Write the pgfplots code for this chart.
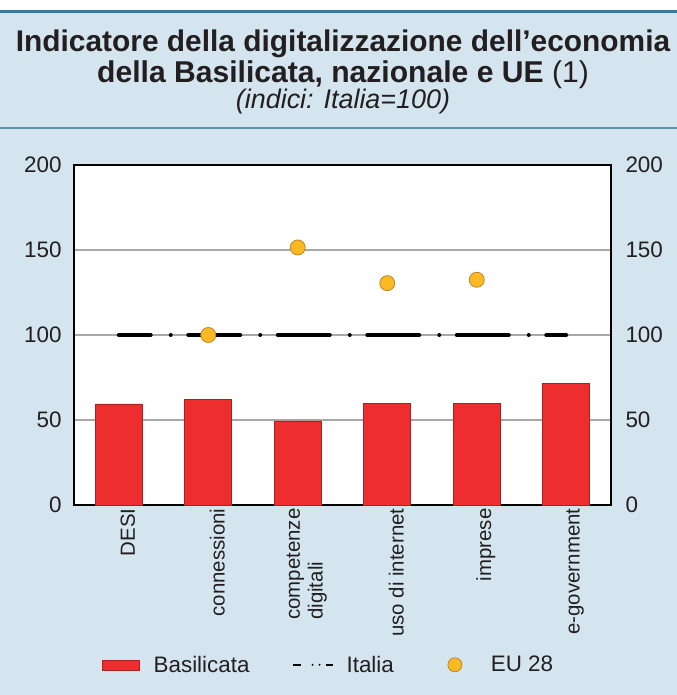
\documentclass[border=0pt]{standalone}
\usepackage{pgfplots}
\pgfplotsset{compat=1.18}
\usepackage{fontspec}
\setmainfont{Liberation Sans}
\definecolor{bgblue}{HTML}{D4E5EF}
\definecolor{lineblue}{HTML}{3A7896}
\definecolor{lineblue2}{HTML}{5B92AD}
\definecolor{barred}{HTML}{EE2E2E}
\definecolor{bardark}{HTML}{A82222}
\definecolor{euyellow}{HTML}{FDB924}
\definecolor{eudark}{HTML}{B8862B}
\definecolor{txt}{HTML}{231F20}
\definecolor{gridgrey}{HTML}{A8A8A8}
\begin{document}
\begin{tikzpicture}
\fill[bgblue] (-74bp,-190bp) rectangle (603bp,492bp);
\fill[white] (-74bp,492bp) rectangle (603bp,505bp);
\useasboundingbox (-74bp,-190bp) rectangle (603bp,505bp);
\draw[lineblue, line width=3bp] (-74bp,493bp) -- (603bp,493bp);
\draw[lineblue2, line width=2.5bp] (-74bp,377bp) -- (603bp,377bp);
\node[anchor=base, text=txt, inner sep=0pt, font=\fontsize{30}{34}\selectfont\bfseries] at (269bp,453bp) {Indicatore della digitalizzazione dell’economia};
\node[anchor=base, text=txt, inner sep=0pt, font=\fontsize{30.2}{34}\selectfont] at (269bp,422bp) {\bfseries della Basilicata, nazionale e UE \mdseries(1)};
\node[anchor=base, text=txt, inner sep=0pt, font=\fontsize{27}{30}\selectfont\itshape] at (269bp,396bp) {(indici: Italia=100)};

\begin{axis}[
  at={(0bp,0bp)}, anchor=south west,
  width=537bp, height=340bp, scale only axis,
  xmin=-0.5, xmax=5.5, ymin=0, ymax=200,
  ytick={0,50,100,150,200},
  xtick={0,1,2,3,4,5},
  xticklabels={DESI, connessioni, {competenze\\digitali}, uso di internet, imprese, e-government},
  major tick length=0,
  ymajorgrids, grid style={color=gridgrey, line width=1.1bp},
  axis line style={black, line width=1.5bp},
  axis background/.style={fill=white},
  tick label style={color=txt},
  /pgf/number format/assume math mode=true,
  yticklabel style={font=\fontsize{22.5}{26}\selectfont, xshift=-9bp},
  xticklabel style={rotate=90, anchor=east, align=left, font=\fontsize{20.5}{23}\selectfont, yshift=-9bp},
  legend columns=3,
  legend style={at={(0.0465,-0.47)}, anchor=west, draw=none, fill=none,
    font=\fontsize{22.5}{26}\selectfont, text=txt,
    /tikz/every odd column/.append style={column sep=12bp},
    /tikz/every even column/.append style={column sep=41bp}},
]
\addplot[ybar, bar width=47bp, fill=barred, draw=bardark, line width=0.5bp,
  legend image code/.code={\fill[barred, draw=bardark, line width=0.5bp, solid] (0bp,-5bp) rectangle (37bp,5bp);}]
  coordinates {(0,59.5) (1,62) (2,49.5) (3,60) (4,60) (5,71.5)};
\addlegendentry{Basilicata}
\addplot[black, line width=4bp, line cap=round, dash pattern=on 52bp off 20bp on 0bp off 17.5bp, dash phase=20bp,
  legend image code/.code={
    \path[draw=none, fill=none] (0bp,0bp) -- (40bp,0bp);
    \fill[black, draw=none] (0bp,-1.2bp) rectangle (8bp,1.2bp);
    \fill[black, draw=none] (20bp,0bp) circle (1.1bp);
    \fill[black, draw=none] (27bp,0bp) circle (1.1bp);
    \fill[black, draw=none] (33bp,-1.2bp) rectangle (40bp,1.2bp);}]
  coordinates {(0,100) (5,100)};
\addlegendentry{Italia}
\addplot[only marks, mark=*, mark size=7.5bp, mark options={fill=euyellow, draw=eudark, line width=0.8bp},
  legend image code/.code={\path[draw=none, fill=none] (0bp,0bp) -- (40bp,0bp); \draw[fill=euyellow, draw=eudark, line width=0.8bp, solid] (18bp,0bp) circle (7bp);}]
  coordinates {(1,100) (2,151.5) (3,130.5) (4,132.5)};
\addlegendentry{EU 28}
\end{axis}
\begin{axis}[
  at={(0bp,0bp)}, anchor=south west,
  width=537bp, height=340bp, scale only axis,
  xmin=-0.5, xmax=5.5, ymin=0, ymax=200,
  ytick={0,50,100,150,200}, xtick=\empty,
  yticklabel pos=right,
  major tick length=0,
  axis line style={draw=none},
  tick label style={color=txt},
  /pgf/number format/assume math mode=true,
  yticklabel style={font=\fontsize{22.5}{26}\selectfont, xshift=11bp},
]
\end{axis}
\end{tikzpicture}
\end{document}
